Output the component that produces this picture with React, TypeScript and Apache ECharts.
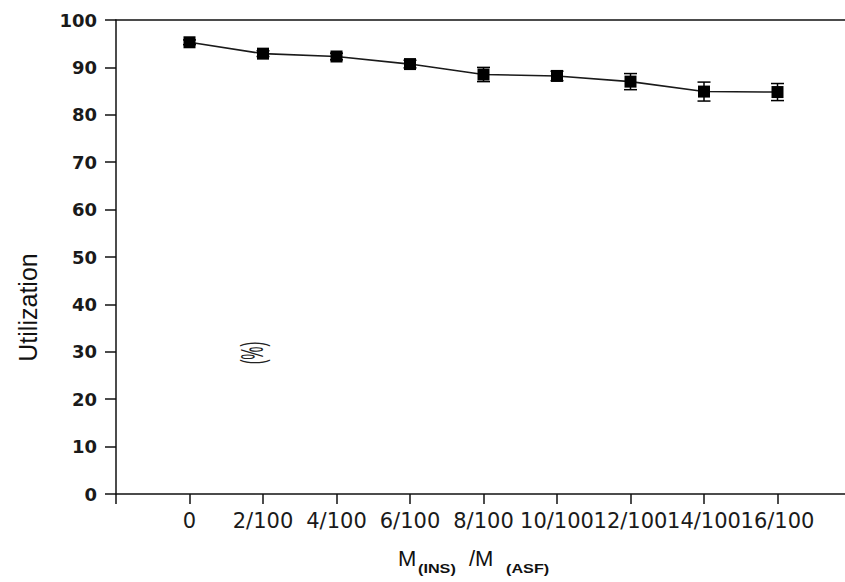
import React, { useEffect, useRef } from "react";
import * as echarts from "echarts";

const categories = ["0", "2/100", "4/100", "6/100", "8/100", "10/100", "12/100", "14/100", "16/100"];
const utilization = [95.3, 92.9, 92.3, 90.7, 88.5, 88.2, 87.0, 84.9, 84.8];
const errors = [0.5, 0.6, 0.7, 0.8, 1.5, 1.0, 1.7, 2.0, 1.8];
const yTicks = { min: 0, max: 100, interval: 10 };

export default function App() {
  const ref = useRef<HTMLDivElement>(null);

  useEffect(() => {
    if (!ref.current) return;
    const chart = echarts.init(ref.current, undefined, { renderer: "svg" });

    const lineData = utilization.map((v, i) => [i, v]);
    const errData = utilization.map((v, i) => [i, v - errors[i], v + errors[i]]);

    const axisColor = "#111";

    chart.setOption({
      animation: false,
      backgroundColor: "#fff",
      grid: {
        left: 116,
        top: 20,
        width: 735,
        height: 474,
        containLabel: false,
        outerBoundsMode: "none",
      },
      xAxis: [
        {
          type: "value",
          min: -1,
          max: 9,
          interval: 1,
          position: "bottom",
          splitLine: { show: false },
          axisLine: { show: true, onZero: false, lineStyle: { color: axisColor, width: 1.5 } },
          axisTick: { show: true, inside: false, length: 10, lineStyle: { color: axisColor, width: 1.5 } },
          axisLabel: {
            show: true,
            margin: 16,
            color: "#1a1a1a",
            fontFamily: "'DejaVu Sans', sans-serif",
            fontSize: 21,
            formatter: (v: number) => (v >= 0 && v < categories.length ? categories[Math.round(v)] : ""),
          },
        },
        {
          type: "value",
          min: -1,
          max: 9,
          interval: 1,
          position: "top",
          splitLine: { show: false },
          axisLine: { show: true, onZero: false, lineStyle: { color: axisColor, width: 1.5 } },
          axisTick: { show: false },
          axisLabel: { show: false },
        },
      ],
      yAxis: {
        type: "value",
        min: yTicks.min,
        max: yTicks.max,
        interval: yTicks.interval,
        splitLine: { show: false },
        axisLine: { show: true, onZero: false, lineStyle: { color: axisColor, width: 1.5 } },
        axisTick: { show: true, inside: false, length: 11, lineStyle: { color: axisColor, width: 1.5 } },
        axisLabel: {
          show: true,
          margin: 19,
          color: "#1a1a1a",
          fontFamily: "'DejaVu Sans', sans-serif",
          fontWeight: "bold",
          fontSize: 18,
        },
      },
      series: [
        {
          type: "custom",
          xAxisIndex: 0,
          yAxisIndex: 0,
          data: errData,
          z: 2,
          renderItem: (params: any, api: any) => {
            const x = api.value(0);
            const lo = api.coord([x, api.value(1)]);
            const hi = api.coord([x, api.value(2)]);
            const half = 6.5;
            const style = { stroke: "#000", lineWidth: 1.5 };
            return {
              type: "group",
              children: [
                { type: "line", shape: { x1: lo[0], y1: lo[1], x2: hi[0], y2: hi[1] }, style },
                { type: "line", shape: { x1: lo[0] - half, y1: lo[1], x2: lo[0] + half, y2: lo[1] }, style },
                { type: "line", shape: { x1: hi[0] - half, y1: hi[1], x2: hi[0] + half, y2: hi[1] }, style },
              ],
            };
          },
        },
        {
          type: "line",
          xAxisIndex: 0,
          yAxisIndex: 0,
          data: lineData,
          z: 3,
          symbol: "rect",
          symbolSize: 12,
          itemStyle: { color: "#000" },
          lineStyle: { color: "#1a1a1a", width: 1.6 },
        },
      ],
      graphic: [
        {
          type: "text",
          x: 27.5,
          y: 307.5,
          rotation: Math.PI / 2,
          style: {
            text: "Utilization",
            fontFamily: "'Liberation Sans', Arial, sans-serif",
            fontSize: 25,
            fill: "#111",
            textAlign: "center",
            verticalAlign: "middle",
          },
        },
        {
          type: "text",
          x: 252,
          y: 353,
          rotation: Math.PI / 2,
          scaleX: 0.6,
          scaleY: 1.3,
          style: {
            text: "(%)",
            fontFamily: "'Liberation Sans', Arial, sans-serif",
            fontSize: 24,
            fill: "#222",
            textAlign: "center",
            verticalAlign: "middle",
          },
        },
        {
          type: "text",
          x: 398,
          y: 558,
          style: {
            text: "M",
            fontFamily: "'Liberation Sans', Arial, sans-serif",
            fontSize: 22,
            fill: "#111",
            textAlign: "left",
            verticalAlign: "middle",
          },
        },
        {
          type: "text",
          x: 418,
          y: 569,
          scaleX: 1.35,
          style: {
            text: "(INS)",
            fontFamily: "'Liberation Sans', Arial, sans-serif",
            fontSize: 12,
            fontWeight: "bold",
            fill: "#111",
            textAlign: "left",
            verticalAlign: "middle",
          },
        },
        {
          type: "text",
          x: 469,
          y: 558,
          style: {
            text: "/M",
            fontFamily: "'Liberation Sans', Arial, sans-serif",
            fontSize: 22,
            fill: "#111",
            textAlign: "left",
            verticalAlign: "middle",
          },
        },
        {
          type: "text",
          x: 506,
          y: 569,
          scaleX: 1.35,
          style: {
            text: "(ASF)",
            fontFamily: "'Liberation Sans', Arial, sans-serif",
            fontSize: 12,
            fontWeight: "bold",
            fill: "#111",
            textAlign: "left",
            verticalAlign: "middle",
          },
        },
      ],
    });

    return () => chart.dispose();
  }, []);

  return (
    <div
      ref={ref}
      style={{ position: "fixed", left: 0, top: 0, width: 845, height: 582, background: "#fff" }}
    />
  );
}
